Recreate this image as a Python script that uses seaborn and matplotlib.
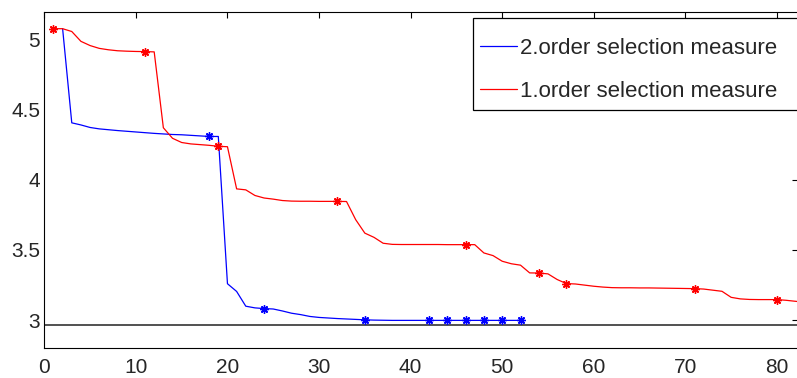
import numpy as np
import pandas as pd
import seaborn as sns
import matplotlib
matplotlib.use("Agg")
import matplotlib.pyplot as plt
from matplotlib.lines import Line2D
from matplotlib.patches import Rectangle

# --- data -------------------------------------------------------------
second_x = list(range(2, 53))
second_y = [5.075, 4.405, 4.39, 4.372, 4.362, 4.356, 4.350, 4.345, 4.340,
            4.335, 4.330, 4.326, 4.322, 4.320, 4.316, 4.312, 4.308, 4.308,
            3.26, 3.205, 3.100, 3.088, 3.083, 3.080, 3.066, 3.050, 3.040,
            3.027, 3.020, 3.016, 3.012, 3.009, 3.006, 3.003, 3.001, 3.000,
            2.999, 2.999, 2.999, 2.999, 2.999, 2.999, 2.999, 2.999, 2.999,
            2.999, 2.999, 2.999, 2.999, 2.999, 2.999]
second_marks = [18, 24, 35, 42, 44, 46, 48, 50, 52]

first_x = list(range(1, 84))
first_y = [5.075, 5.075, 5.055, 4.985, 4.955, 4.935, 4.925, 4.918, 4.915,
           4.913, 4.912, 4.910, 4.37, 4.295, 4.265, 4.255, 4.250, 4.245,
           4.238, 4.235, 3.935, 3.928, 3.888, 3.870, 3.862, 3.852, 3.848,
           3.847, 3.847, 3.846, 3.846, 3.846, 3.845, 3.716, 3.620, 3.590,
           3.548, 3.540, 3.539, 3.539, 3.539, 3.539, 3.539, 3.538, 3.538,
           3.538, 3.538, 3.479, 3.460, 3.420, 3.402, 3.392, 3.337, 3.336,
           3.330, 3.290, 3.261, 3.258, 3.250, 3.242, 3.236, 3.232, 3.231,
           3.231, 3.230, 3.230, 3.229, 3.228, 3.227, 3.226, 3.225, 3.222,
           3.214, 3.206, 3.163, 3.152, 3.148, 3.147, 3.147, 3.147, 3.142,
           3.135, 3.128]
first_marks = [1, 11, 19, 32, 46, 54, 57, 71, 80]

reference_level = 2.965
labels = ["2.order selection measure", "1.order selection measure"]
x_ticks = [0, 10, 20, 30, 40, 50, 60, 70, 80]
y_ticks = [3, 3.5, 4, 4.5, 5]

# --- style ------------------------------------------------------------
sns.set_style("white")
plt.rcParams["font.family"] = ["Liberation Sans", "DejaVu Sans"]

W, H = 797, 378
fig = plt.figure(figsize=(W / 100, H / 100), dpi=100)
left_px, right_px, top_px, bottom_px = 44.3, 798.0, 11.7, 347.5
ax = fig.add_axes([left_px / W, 1 - bottom_px / H,
                   (right_px - left_px) / W, (bottom_px - top_px) / H])

second_df = pd.DataFrame({"x": second_x, "y": second_y})
first_df = pd.DataFrame({"x": first_x, "y": first_y})

star = (8, 2, 0)
sns.lineplot(data=second_df, x="x", y="y", ax=ax, color="#0000ff", lw=0.9,
             marker=star, markersize=6, mec="#0000ff", mew=1.0,
             markevery=[second_x.index(m) for m in second_marks])
sns.lineplot(data=first_df, x="x", y="y", ax=ax, color="#ff0000", lw=0.9,
             marker=star, markersize=6, mec="#ff0000", mew=1.0,
             markevery=[first_x.index(m) for m in first_marks])
ax.axhline(reference_level, color="#222222", lw=1.1, zorder=1)

ax.set_xlim(0, 82.3)
ax.set_ylim(2.806, 5.196)
ax.set_xticks(x_ticks)
ax.set_xticklabels([str(v) for v in x_ticks])
ax.set_yticks(y_ticks)
ax.set_yticklabels(["3", "3.5", "4", "4.5", "5"])
ax.set_xlabel("")
ax.set_ylabel("")

for s in ax.spines.values():
    s.set_visible(True)
    s.set_color("black")
    s.set_linewidth(0.8)
ax.tick_params(axis="both", direction="in", length=4, width=0.8,
               color="black", labelsize=15, top=True, right=True)
ax.tick_params(axis="x", pad=7.5)
ax.tick_params(axis="y", pad=3)

# legend: frame drawn as a rectangle, entries without markers
box_l, box_t, box_b = 472.7, 18.3, 110.0
fig.patches.append(Rectangle((box_l / W, 1 - box_b / H), (W + 10 - box_l) / W,
                             (box_b - box_t) / H, transform=fig.transFigure,
                             facecolor="white", edgecolor="black", lw=0.9,
                             zorder=4))
handles = [Line2D([], [], color="#0000ff", lw=0.9),
           Line2D([], [], color="#ff0000", lw=0.9)]
leg = fig.legend(handles, labels, loc="upper left",
                 bbox_to_anchor=(471 / W, 1 - 29 / H),
                 frameon=False, fontsize=16, handlelength=1.67,
                 handletextpad=0.14, labelspacing=1.0, borderpad=0.4,
                 borderaxespad=0)
leg.set_zorder(5)

fig.savefig("out.png", dpi=100)
